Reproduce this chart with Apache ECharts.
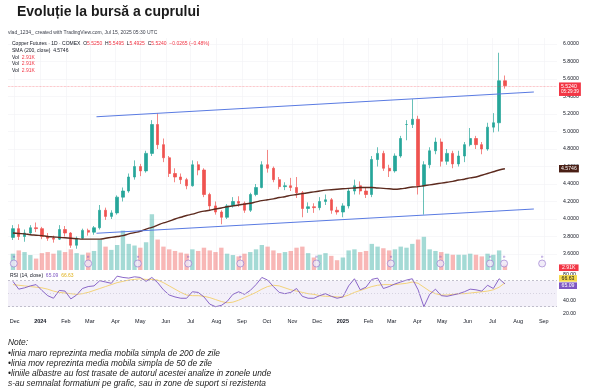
<!DOCTYPE html>
<html><head><meta charset="utf-8">
<script src="https://cdn.jsdelivr.net/npm/echarts@6/dist/echarts.min.js"></script>
<style>html,body{margin:0;padding:0;background:#fff}#c{width:600px;height:392px}</style>
</head><body><div id="c"></div>
<script>
// ---------- data (weekly candles) ----------
const firstWeek = '2023-11-29'; // mid-week date of the first weekly candle
const opens = [
3.79,3.89,3.80,3.84,3.90,3.89,3.80,3.78,3.77,3.88,
3.84,3.70,3.78,3.87,3.85,3.90,4.10,4.03,4.07,4.25,
4.32,4.48,4.60,4.55,4.75,5.08,4.85,4.70,4.52,4.48,
4.45,4.38,4.62,4.56,4.28,4.15,4.08,4.02,4.15,4.20,
4.18,4.10,4.28,4.36,4.62,4.58,4.45,4.37,4.38,4.36,
4.30,4.12,4.14,4.13,4.20,4.22,4.10,4.08,4.15,4.32,
4.38,4.32,4.28,4.68,4.75,4.58,4.55,4.72,5.08,5.08,
5.14,4.38,4.62,4.78,4.88,4.66,4.75,4.63,4.72,4.85,
4.92,4.85,4.80,5.05,5.10,5.58];
const closes = [
3.89,3.80,3.84,3.90,3.89,3.80,3.78,3.77,3.88,3.84,
3.70,3.78,3.87,3.85,3.90,4.10,4.03,4.07,4.25,4.32,
4.48,4.60,4.55,4.75,5.08,4.85,4.70,4.52,4.48,4.45,
4.38,4.62,4.56,4.28,4.15,4.08,4.02,4.15,4.20,4.18,
4.10,4.28,4.36,4.62,4.58,4.45,4.37,4.38,4.36,4.30,
4.12,4.14,4.13,4.20,4.22,4.10,4.08,4.15,4.32,4.38,
4.32,4.28,4.68,4.75,4.58,4.55,4.72,4.92,5.08,5.14,
4.38,4.62,4.78,4.88,4.66,4.75,4.63,4.72,4.85,4.92,
4.85,4.80,5.05,5.10,5.58,5.524];
const lows = [
3.76,3.76,3.74,3.82,3.85,3.77,3.75,3.73,3.76,3.80,
3.67,3.66,3.77,3.81,3.82,3.88,3.99,4.00,4.05,4.20,
4.30,4.45,4.49,4.53,4.72,4.80,4.65,4.48,4.42,4.40,
4.34,4.37,4.50,4.25,4.10,4.05,3.94,4.00,4.13,4.14,
4.07,4.08,4.26,4.35,4.53,4.42,4.34,4.33,4.32,4.24,
4.02,4.07,4.07,4.10,4.16,4.06,4.05,4.02,4.12,4.28,
4.28,4.24,4.25,4.60,4.55,4.48,4.53,4.70,4.90,5.04,
4.28,4.05,4.58,4.74,4.60,4.62,4.58,4.60,4.65,4.83,
4.80,4.74,4.78,4.99,5.00,5.49];
const highs = [
3.93,3.94,3.88,3.93,3.96,3.91,3.84,3.81,3.93,3.92,
3.85,3.80,3.89,3.89,3.92,4.16,4.13,4.10,4.27,4.36,
4.52,4.67,4.63,4.78,5.13,5.21,4.92,4.72,4.58,4.52,
4.47,4.67,4.66,4.58,4.30,4.20,4.10,4.17,4.25,4.26,
4.20,4.30,4.40,4.66,4.79,4.60,4.48,4.42,4.47,4.48,
4.32,4.19,4.18,4.25,4.28,4.24,4.14,4.18,4.35,4.45,
4.43,4.36,4.72,4.82,4.78,4.62,4.75,4.95,5.13,5.37,
5.18,4.66,4.82,4.93,4.92,4.80,4.78,4.78,4.88,5.04,
4.95,4.88,5.10,5.21,5.90,5.64];
const volumesK = [
60,72,66,55,42,62,66,60,72,66,
76,62,56,64,70,112,86,74,92,145,
96,90,82,102,205,112,86,76,70,64,
60,76,70,82,72,66,82,60,55,50,
60,66,76,92,86,72,62,66,70,82,
86,62,46,56,62,52,36,46,72,76,
66,70,96,86,80,72,76,86,82,96,
112,122,76,70,66,60,56,56,56,60,
56,50,60,56,72,20];
const sma200 = [
3.840,3.835,3.830,3.820,3.815,3.810,3.800,3.795,3.790,3.785,
3.780,3.775,3.770,3.770,3.770,3.770,3.780,3.790,3.800,3.810,
3.830,3.845,3.860,3.885,3.905,3.930,3.955,3.975,4.000,4.020,
4.040,4.055,4.075,4.090,4.100,4.115,4.125,4.140,4.150,4.160,
4.170,4.180,4.195,4.210,4.220,4.230,4.245,4.255,4.270,4.280,
4.290,4.300,4.310,4.320,4.330,4.335,4.340,4.345,4.350,4.355,
4.360,4.360,4.360,4.355,4.350,4.345,4.340,4.345,4.355,4.365,
4.370,4.380,4.390,4.400,4.410,4.420,4.430,4.445,4.455,4.470,
4.480,4.500,4.520,4.540,4.560,4.5746];
const rsi = [
69,57,59,62,64,55,47,43,55,54,
42,48,58,61,62,70,68,66,77,75,
74,76,75,69,75,67,56,48,45,43,
43,53,52,45,34,30,32,38,49,53,
49,55,64,75,71,61,52,50,52,58,
46,43,43,47,50,46,43,45,62,73,
56,60,72,74,58,61,65,68,71,73,
56,30,49,57,47,46,48,50,53,57,
56,54,63,58,73,65.09];
const rsiMa = [
64,63,62,61,60,59,57,54,52,51,
50,49,50,52,55,58,61,64,67,69,
71,72,73,72,72,71,67,62,57,52,
48,47,47,46,44,41,38,36,37,40,
44,48,52,57,61,63,62,59,56,54,
52,50,49,47,46,46,45,45,48,52,
55,58,61,63,64,64,64,65,66,68,
66,60,54,50,48,48,49,50,50,51,
52,53,54,56,60,66.63];
const monthTicks = ['2023-12-01','2024-01-01','2024-02-01','2024-03-01','2024-04-01','2024-05-01','2024-06-01','2024-07-01','2024-08-01','2024-09-01','2024-10-01','2024-11-01','2024-12-01','2025-01-01','2025-02-01','2025-03-01','2025-04-01','2025-05-01','2025-06-01','2025-07-01','2025-08-01','2025-09-01'];
const monthLabels = ['Dec','2024','Feb','Mar','Apr','May','Jun','Jul','Aug','Sep','Oct','Nov','Dec','2025','Feb','Mar','Apr','May','Jun','Jul','Aug','Sep'];
const priceTicks = [3.6,3.8,4.0,4.2,4.4,4.6,4.8,5.0,5.2,5.4,5.6,5.8,6.0];
const rsiTicks = [20,40,60,80];
const rolloverDates = ['2023-11-30','2024-02-28','2024-04-28','2024-06-28','2024-08-30','2024-11-30','2025-02-28','2025-04-29','2025-06-28','2025-07-15','2025-08-30'];
const upperTrend = [['2024-03-09',5.169],['2025-08-20',5.451]];
const lowerTrend = [['2024-03-09',3.837],['2025-08-20',4.114]];
const lastPrice = 5.524, lastSma = 4.5746, lastVolK = 2.91, lastRsi = 65.09, lastRsiMa = 66.63;
const xStart = '2023-11-23', xEnd = '2025-09-17';

// ---------- build ----------
const DAY = 86400000;
function ts(s){const p=s.split('-').map(Number);return Date.UTC(p[0],p[1]-1,p[2]);}
const t0 = ts(firstWeek);
const times = closes.map((_, i) => t0 + i*7*DAY);
const UP='#26a69a', DN='#ef5350';
const FONT='"Liberation Sans", Arial, sans-serif';
const TXT='#131722';
const monthTs = monthTicks.map(ts);
const xMin = ts(xStart), xMax = ts(xEnd);

function xAxisCfg(idx, showLabels, showSplit){
  return {type:'value', gridIndex:idx, min:xMin, max:xMax, scale:true,
    axisLine:{show:false}, axisTick:{show:false, customValues:monthTs},
    splitLine:{show:showSplit, lineStyle:{color:'#f1f2f5', width:0.6}},
    axisLabel:{show:showLabels, customValues:monthTs, margin:2, fontSize:5.5, color:TXT, fontFamily:FONT,
      formatter:function(v){let k=-1;for(let j=0;j<monthTs.length;j++){if(Math.abs(monthTs[j]-v)<DAY){k=j;break;}}
        const s=k>=0?monthLabels[k]:''; return /^\d{4}$/.test(s)?'{y|'+s+'}':s;},
      rich:{y:{fontWeight:'bold',fontSize:5.5,color:TXT,fontFamily:FONT}}}
  };
}
// price scale: 6.0 at y=44, 87.5 px per 1.0
const pTop=38, pBot=270;
const pMax = 6 + (44-pTop)/87.5, pMin = 6 - (pBot-44)/87.5;
// rsi scale: 70 at y=280.7, 0.65 px per unit
const rTop=270, rBot=316;
const rMax = 70 + (280.7-rTop)/0.65, rMin = 70 - (rBot-280.7)/0.65;

const option = {
  animation:false,
  backgroundColor:'#fff',
  grid:[
    {left:8, right:43, top:pTop, height:pBot-pTop, outerBoundsMode:'none'},
    {left:8, right:43, top:202, height:68, outerBoundsMode:'none'},
    {left:8, right:43, top:rTop, height:rBot-rTop, outerBoundsMode:'none'}
  ],
  xAxis:[xAxisCfg(0,false,true), xAxisCfg(1,false,false), xAxisCfg(2,true,false)],
  yAxis:[
    {type:'value', gridIndex:0, position:'right', min:pMin, max:pMax, scale:true,
     axisLine:{show:false}, axisTick:{show:false, customValues:priceTicks},
     splitLine:{show:true, lineStyle:{color:'#f1f2f5', width:0.6}},
     axisLabel:{customValues:priceTicks, margin:6, fontSize:5.2, color:TXT, fontFamily:FONT, formatter:v=>v.toFixed(4)}},
    {type:'value', gridIndex:1, min:0, max:250, show:false},
    {type:'value', gridIndex:2, position:'right', min:rMin, max:rMax, scale:true,
     axisLine:{show:false}, axisTick:{show:false, customValues:rsiTicks}, splitLine:{show:false},
     axisLabel:{customValues:rsiTicks, margin:6, fontSize:5.2, color:TXT, fontFamily:FONT, formatter:v=>v.toFixed(2)}}
  ],
  series:[
    {type:'bar', xAxisIndex:1, yAxisIndex:1, barWidth:4.4, silent:true,
     data: volumesK.map((v,i)=>({value:[times[i],v], itemStyle:{color: closes[i]>=opens[i]?'rgba(38,166,154,0.42)':'rgba(239,83,80,0.42)'}}))},
    {type:'scatter', xAxisIndex:1, yAxisIndex:1, symbol:'circle', symbolSize:7, symbolOffset:[0,-6.5], silent:true,
     itemStyle:{color:'#ede7f6', borderColor:'#9575cd', borderWidth:0.8},
     label:{show:true, position:'inside', formatter:'»', fontSize:5, color:'#7e57c2', offset:[0,-6.5]},
     data: rolloverDates.map(d=>[ts(d),0])},
    {type:'candlestick', xAxisIndex:0, yAxisIndex:0, barWidth:2.8, silent:true,
     itemStyle:{color:UP, color0:DN, borderColor:UP, borderColor0:DN, borderWidth:0.7},
     data: closes.map((c,i)=>[times[i], opens[i], c, lows[i], highs[i]]),
     markLine:{silent:true, symbol:'none', label:{show:false},
       lineStyle:{color:'#f23645', type:'dotted', width:0.7, opacity:0.55},
       data:[{yAxis:lastPrice}]}},
    {type:'line', xAxisIndex:0, yAxisIndex:0, symbol:'none', smooth:true, silent:true, z:3,
     lineStyle:{color:'#5c2a1e', width:1.4}, data: sma200.map((v,i)=>[times[i],v])},
    {type:'line', xAxisIndex:0, yAxisIndex:0, symbol:'none', silent:true, z:4,
     lineStyle:{color:'#5a7be2', width:1.1}, data: upperTrend.map(p=>[ts(p[0]),p[1]])},
    {type:'line', xAxisIndex:0, yAxisIndex:0, symbol:'none', silent:true, z:4,
     lineStyle:{color:'#5a7be2', width:1.1}, data: lowerTrend.map(p=>[ts(p[0]),p[1]])},
    {type:'line', xAxisIndex:2, yAxisIndex:2, symbol:'none', silent:true, z:3,
     lineStyle:{color:'#f3cf6b', width:0.9}, data: rsiMa.map((v,i)=>[times[i],v])},
    {type:'line', xAxisIndex:2, yAxisIndex:2, symbol:'none', silent:true, z:4,
     lineStyle:{color:'#7e57c2', width:0.9}, data: rsi.map((v,i)=>[times[i],v]),
     markArea:{silent:true, itemStyle:{color:'rgba(126,87,194,0.09)'}, data:[[{yAxis:30},{yAxis:70}]]},
     markLine:{silent:true, symbol:'none', label:{show:false},
       lineStyle:{color:'#a9a6b8', type:[2,2], width:0.7},
       data:[{yAxis:70},{yAxis:50, lineStyle:{color:'#c9c6d6', type:[1,2]}},{yAxis:30}]}}
  ]
};
const chart = echarts.init(document.getElementById('c'), null, {renderer:'canvas', width:600, height:392});
chart.setOption(option);

const xr = chart.convertToPixel({xAxisIndex:0}, xMax) + 2;
const yP = v => chart.convertToPixel({yAxisIndex:0}, v);
const yV = v => chart.convertToPixel({yAxisIndex:1}, v);
const yR = v => chart.convertToPixel({yAxisIndex:2}, v);
const RED='#f23645';
function t(x,y,text,font,fill,extra){return {type:'text', x:x, y:y, z:100, style:Object.assign({text:text, font:font, fill:fill, verticalAlign:'middle', align:'left'}, extra||{})};}
const small = '5px '+FONT;
function rt(x,y,text,rich){return {type:'text', x:x, y:y, z:100, style:{verticalAlign:'middle', align:'left', text:text, rich:rich}};}
const dr = {d:{fontSize:5,fontFamily:FONT,fill:TXT},r:{fontSize:5,fontFamily:FONT,fill:RED}};
const NOTE = 'italic 8.4px '+FONT;
const g = [
  t(17,12,'Evoluție la bursă a cuprului','bold 14px '+FONT,'#1b1b1b'),
  t(8,33,'vlad_1234_ created with TradingView.com, Jul 15, 2025 05:30 UTC',small,'#3a3e4a'),
  rt(12,44,'{d|Copper Futures · 1D · COMEX  O}{r|5.5250}{d|  H}{r|5.5495}{d|  L}{r|5.4925}{d|  C}{r|5.5240}{r|  −0.0265 (−0.48%)}', dr),
  t(12,50.8,'SMA (200, close)  4.5746',small,TXT),
  rt(12,57.4,'{d|Vol  }{r|2.91K}', dr),
  rt(12,64,'{d|Vol  }{r|2.91K}', dr),
  rt(12,70.6,'{d|Vol  }{r|2.91K}', dr),
  rt(10,276,'{d|RSI (14, close)  }{p|'+lastRsi.toFixed(2)+'}{y|  '+lastRsiMa.toFixed(2)+'}',
     {d:{fontSize:5,fontFamily:FONT,fill:TXT},p:{fontSize:5,fontFamily:FONT,fill:'#7e57c2'},y:{fontSize:5,fontFamily:FONT,fill:'#e0b21c'}}),
  {type:'text', x:xr, y:yP(lastPrice)-3.2, z:110, style:{verticalAlign:'top', align:'left',
     text:'{a|'+lastPrice.toFixed(4)+'}\n{b|05:29:39}', backgroundColor:RED, padding:[1,2,1,2],
     rich:{a:{fontSize:5.2,fontFamily:FONT,fill:'#fff',lineHeight:6},b:{fontSize:4.6,fontFamily:FONT,fill:'#fff',lineHeight:5.5}}}},
  t(xr, yP(lastSma), lastSma.toFixed(4), '5.2px '+FONT, '#fff', {backgroundColor:'#4a1f15', padding:[1.2,2,1.2,2]}),
  t(xr, yV(lastVolK)-1.5, lastVolK.toFixed(2)+'K', '5.2px '+FONT, '#fff', {backgroundColor:RED, padding:[0.8,3,0.8,3]}),
  t(xr, yR(lastRsiMa)-4.5, lastRsiMa.toFixed(2), '5.2px '+FONT, TXT, {backgroundColor:'#f5d94a', padding:[0.8,2.5,0.8,2.5]}),
  t(xr, yR(lastRsi)+1.8, lastRsi.toFixed(2), '5.2px '+FONT, '#fff', {backgroundColor:'#7e57c2', padding:[0.8,2.5,0.8,2.5]}),
  t(8,343,'Note:',NOTE,'#222'),
  t(8,353.3,'•linia maro reprezinta media mobila simpla de 200 de zile',NOTE,'#222'),
  t(8,363.3,'•linia mov reprezinta media mobila simpla de 50 de zile',NOTE,'#222'),
  t(8,373.3,'•liniile albastre au fost trasate de autorul acestei analize in zonele unde',NOTE,'#222'),
  t(8,383.3,'s-au semnalat formatiuni pe grafic, sau in zone de suport si rezistenta',NOTE,'#222')
];
chart.setOption({graphic:g});
</script></body></html>
